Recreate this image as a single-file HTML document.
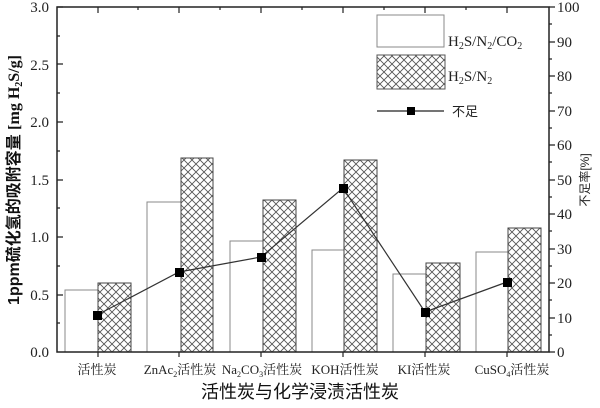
<!DOCTYPE html>
<html><head><meta charset="utf-8"><style>body{margin:0;background:#fff}</style></head><body>
<svg width="600" height="403" xmlns="http://www.w3.org/2000/svg" font-family="Liberation Serif, Noto Serif CJK SC, serif">
<defs>
<pattern id="h" width="8" height="8" patternUnits="userSpaceOnUse">
<rect width="8" height="8" fill="#fff"/>
<path d="M0,0L8,8M8,0L0,8M-1,7L1,9M7,-1L9,1M-1,1L1,-1M7,9L9,7" stroke="#555" stroke-width="0.9"/>
</pattern>
</defs>
<g stroke="#888" stroke-width="1">
<rect x="65" y="290" width="33" height="62" fill="#fff"/>
<rect x="147" y="202" width="34" height="150" fill="#fff"/>
<rect x="230" y="241" width="33" height="111" fill="#fff"/>
<rect x="312" y="250" width="32" height="102" fill="#fff"/>
<rect x="393" y="274" width="33" height="78" fill="#fff"/>
<rect x="476" y="252" width="32" height="100" fill="#fff"/>
</g>
<g stroke="#444" stroke-width="1" fill="url(#h)">
<rect x="98" y="283" width="33" height="69"/>
<rect x="181" y="158" width="32" height="194"/>
<rect x="263" y="200" width="33" height="152"/>
<rect x="344" y="160" width="33" height="192"/>
<rect x="426" y="263" width="34" height="89"/>
<rect x="508" y="228" width="33" height="124"/>
</g>
<polyline points="97,315 179,272 261,257 343,188 425,312 507,282" fill="none" stroke="#333" stroke-width="1.2"/>
<g fill="#000">
<rect x="93" y="311" width="9" height="9"/><rect x="175" y="268" width="9" height="9"/><rect x="257" y="253" width="9" height="9"/><rect x="339" y="184" width="9" height="9"/><rect x="421" y="308" width="9" height="9"/><rect x="503" y="278" width="9" height="9"/>
</g>
<rect x="57" y="7" width="492" height="345" fill="none" stroke="#222" stroke-width="1.5"/>
<g stroke="#222" stroke-width="1.2">
<path d="M57,7h6M57,36h3M57,64h6M57,93h3M57,122h6M57,151h3M57,180h6M57,208h3M57,237h6M57,266h3M57,295h6M57,323h3"/>
<path d="M98,7v6M138,7v3M179,7v6M220,7v3M261,7v6M302,7v3M343,7v6M384,7v3M425,7v6M466,7v3M507,7v6"/>
<path d="M98,352v5M179,352v5M261,352v5M343,352v5M425,352v5M507,352v5"/>
<path d="M549,7h6M549,24h3M549,42h6M549,59h3M549,76h6M549,93h3M549,111h6M549,128h3M549,145h6M549,162h3M549,180h6M549,197h3M549,214h6M549,231h3M549,249h6M549,266h3M549,283h6M549,300h3M549,318h6M549,335h3M549,352h6"/>
</g>
<g font-size="15" fill="#222" text-anchor="end">
<text x="49" y="12">3.0</text><text x="49" y="70">2.5</text><text x="49" y="127">2.0</text><text x="49" y="185">1.5</text><text x="49" y="242">1.0</text><text x="49" y="300">0.5</text><text x="49" y="357">0.0</text>
</g>
<g font-size="15" fill="#222">
<text x="557" y="12">100</text><text x="557" y="47">90</text><text x="557" y="81">80</text><text x="557" y="116">70</text><text x="557" y="150">60</text><text x="557" y="185">50</text><text x="557" y="219">40</text><text x="557" y="254">30</text><text x="557" y="288">20</text><text x="557" y="323">10</text><text x="557" y="357">0</text>
</g>
<g font-size="13" fill="#222" text-anchor="middle">
<text x="97" y="374">活性炭</text>
<text x="180" y="374">ZnAc<tspan font-size="8" dy="3">2</tspan><tspan dy="-3">活性炭</tspan></text>
<text x="262" y="374">Na<tspan font-size="8" dy="3">2</tspan><tspan dy="-3">CO</tspan><tspan font-size="8" dy="3">3</tspan><tspan dy="-3">活性炭</tspan></text>
<text x="345" y="374">KOH活性炭</text>
<text x="424" y="374">KI活性炭</text>
<text x="512" y="374">CuSO<tspan font-size="8" dy="3">4</tspan><tspan dy="-3">活性炭</tspan></text>
</g>
<text x="300" y="398" font-size="18" text-anchor="middle" fill="#111" font-family="Liberation Sans, Noto Sans CJK SC, sans-serif">活性炭与化学浸渍活性炭</text>
<text transform="translate(19,180) rotate(-90)" font-size="16" text-anchor="middle" fill="#111" font-weight="bold" font-family="Liberation Sans, Noto Sans CJK SC, sans-serif">1ppm硫化氢的吸附容量 <tspan font-family="Liberation Serif, serif">[mg H<tspan font-size="10" dy="3">2</tspan><tspan dy="-3">S/g]</tspan></tspan></text>
<text transform="translate(589,180) rotate(-90)" font-size="12" text-anchor="middle" fill="#222" font-family="Liberation Sans, Noto Sans CJK SC, sans-serif">不足率[%]</text>
<rect x="377" y="15" width="67" height="32" fill="#fff" stroke="#888"/>
<rect x="377" y="55" width="68" height="34" fill="url(#h)" stroke="#555"/>
<line x1="377" y1="111" x2="444" y2="111" stroke="#222" stroke-width="1.2"/>
<rect x="407" y="107" width="8" height="8" fill="#000"/>
<g font-size="15" fill="#222">
<text x="448" y="46">H<tspan font-size="10" dy="3">2</tspan><tspan dy="-3">S/N</tspan><tspan font-size="10" dy="3">2</tspan><tspan dy="-3">/CO</tspan><tspan font-size="10" dy="3">2</tspan></text>
<text x="448" y="81">H<tspan font-size="10" dy="3">2</tspan><tspan dy="-3">S/N</tspan><tspan font-size="10" dy="3">2</tspan></text>
<text x="452" y="116" font-size="13" font-family="Liberation Sans, Noto Sans CJK SC, sans-serif">不足</text>
</g>
</svg>
</body></html>
